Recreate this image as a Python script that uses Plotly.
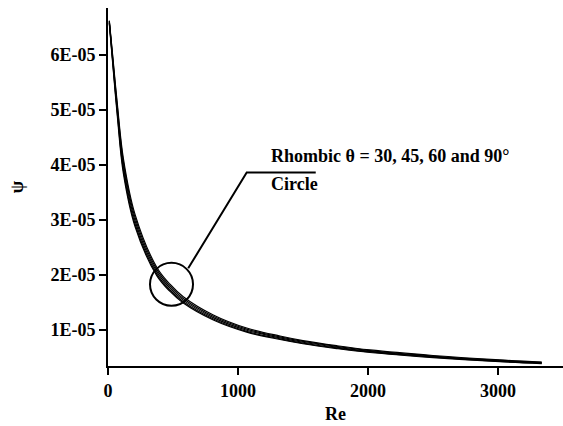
import plotly.graph_objects as go

# Data
re_vals = [10, 33, 72, 118, 208, 375, 477, 579, 810, 1067, 1323, 1500, 1759, 2015, 2500, 3015, 3336]
psi_circle = [6.62e-5, 6.06e-5, 5.10e-5, 4.12e-5, 3.10e-5, 2.14e-5, 1.830e-5, 1.605e-5, 1.273e-5, 1.035e-5, 0.890e-5, 0.807e-5, 0.714e-5, 0.637e-5, 0.536e-5, 0.455e-5, 0.417e-5]
psi_r30 = [6.61e-5, 6.03e-5, 5.05e-5, 4.06e-5, 3.045e-5, 2.10e-5, 1.797e-5, 1.573e-5, 1.248e-5, 1.015e-5, 0.873e-5, 0.792e-5, 0.700e-5, 0.624e-5, 0.526e-5, 0.447e-5, 0.411e-5]
psi_r45 = [6.60e-5, 5.99e-5, 4.98e-5, 3.98e-5, 2.985e-5, 2.06e-5, 1.761e-5, 1.542e-5, 1.224e-5, 0.995e-5, 0.856e-5, 0.776e-5, 0.687e-5, 0.612e-5, 0.515e-5, 0.438e-5, 0.403e-5]
psi_r60 = [6.58e-5, 5.96e-5, 4.93e-5, 3.91e-5, 2.925e-5, 2.02e-5, 1.726e-5, 1.511e-5, 1.200e-5, 0.975e-5, 0.839e-5, 0.761e-5, 0.673e-5, 0.600e-5, 0.505e-5, 0.429e-5, 0.395e-5]
psi_r90 = [6.57e-5, 5.93e-5, 4.88e-5, 3.85e-5, 2.88e-5, 1.987e-5, 1.700e-5, 1.488e-5, 1.180e-5, 0.960e-5, 0.826e-5, 0.749e-5, 0.662e-5, 0.590e-5, 0.497e-5, 0.422e-5, 0.389e-5]

x_ticks = [0, 1000, 2000, 3000]
y_ticks = [1e-5, 2e-5, 3e-5, 4e-5, 5e-5, 6e-5]
y_tick_labels = ["1E-05", "2E-05", "3E-05", "4E-05", "5E-05", "6E-05"]

# Annotation geometry (data coordinates)
circle_x = [323, 654]
circle_y = [1.44e-5, 2.22e-5]
leader_x = [617, 1067, 1598]
leader_y = [2.12e-5, 3.86e-5, 3.86e-5]

FONT = "Liberation Serif, Times New Roman, serif"

fig = go.Figure()
for name, ys in [("Circle", psi_circle), ("Rhombic 30", psi_r30), ("Rhombic 45", psi_r45),
                 ("Rhombic 60", psi_r60), ("Rhombic 90", psi_r90)]:
    fig.add_trace(go.Scatter(x=re_vals, y=ys, mode="lines", name=name,
                             line=dict(color="black", width=1.2, shape="spline", smoothing=1.0),
                             showlegend=False))

fig.add_trace(go.Scatter(x=leader_x, y=leader_y, mode="lines",
                         line=dict(color="black", width=2), showlegend=False))

fig.add_shape(type="circle", xref="x", yref="y", x0=circle_x[0], x1=circle_x[1],
              y0=circle_y[0], y1=circle_y[1], line=dict(color="black", width=2))

fig.add_annotation(x=1240, y=4.16e-5, xref="x", yref="y", text="Rhombic θ = 30, 45, 60 and 90°",
                   showarrow=False, xanchor="left", yanchor="middle",
                   font=dict(family=FONT, size=18, color="black", weight="bold"))
fig.add_annotation(x=1240, y=3.65e-5, xref="x", yref="y", text="Circle",
                   showarrow=False, xanchor="left", yanchor="middle",
                   font=dict(family=FONT, size=18, color="black", weight="bold"))

axis_font = dict(family=FONT, size=18, color="black", weight="bold")

fig.update_layout(
    width=563, height=426,
    margin=dict(l=108, r=0, t=8, b=60),
    paper_bgcolor="white", plot_bgcolor="white",
    xaxis=dict(range=[0, 3500], tickvals=x_ticks, ticktext=[str(v) for v in x_ticks],
               showgrid=False, zeroline=False, showline=True, linecolor="black", linewidth=2,
               ticks="outside", ticklen=7, tickwidth=2, tickcolor="black",
               tickfont=axis_font,
               title=dict(text="Re", font=axis_font, standoff=8)),
    yaxis=dict(range=[3.45e-6, 6.85e-5], tickvals=y_ticks, ticktext=y_tick_labels,
               showgrid=False, zeroline=False, showline=True, linecolor="black", linewidth=2,
               ticks="outside", ticklen=7, tickwidth=2, tickcolor="black",
               tickfont=axis_font,
               title=dict(text="ψ", font=axis_font, standoff=22)),
)

fig.write_html("out.html")
